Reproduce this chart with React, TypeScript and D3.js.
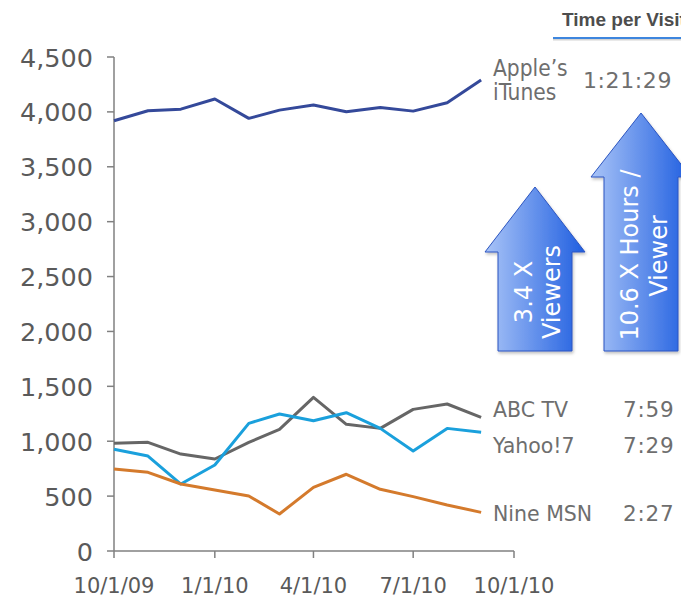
import React from "react";
import * as d3 from "d3";

const months = [
  "2009-10-01", "2009-11-01", "2009-12-01", "2010-01-01", "2010-02-01", "2010-03-01",
  "2010-04-01", "2010-05-01", "2010-06-01", "2010-07-01", "2010-08-01", "2010-09-01",
];
const itunes = [3919, 4010, 4025, 4117, 3941, 4016, 4062, 4001, 4041, 4007, 4083, 4290];
const abcTv = [981, 990, 883, 838, 990, 1108, 1400, 1154, 1117, 1290, 1339, 1218];
const yahoo7 = [926, 865, 610, 783, 1163, 1248, 1187, 1260, 1117, 911, 1117, 1081];
const nineMsn = [747, 717, 610, 556, 501, 337, 580, 699, 562, 495, 419, 352];

const yTicks = [0, 500, 1000, 1500, 2000, 2500, 3000, 3500, 4000, 4500];
const xTickDates = ["2009-10-01", "2010-01-01", "2010-04-01", "2010-07-01", "2010-10-01"];
const xTickLabels = ["10/1/09", "1/1/10", "4/1/10", "7/1/10", "10/1/10"];

const seriesNames = ["itunes", "abc", "yahoo", "nine"];
const seriesData = [itunes, abcTv, yahoo7, nineMsn];
const seriesColors = ["#34499a", "#666666", "#1aa0dc", "#d47a2c"];

const parse = d3.timeParse("%Y-%m-%d");

export default function App() {
  const x = d3.scaleTime().domain([parse("2009-10-01")!, parse("2010-10-01")!]).range([114, 514]);
  const y = d3.scaleLinear().domain([0, 4500]).range([551, 57]);
  const dates = months.map((m) => parse(m)!);
  const line = d3
    .line<number>()
    .x((_, i) => x(dates[i]))
    .y((d) => y(d));

  const labelColor = "#6e6e6e";
  const tickColor = "#5a5a5a";
  const font = "DejaVu Sans, Verdana, sans-serif";

  const arrow = (tipX: number, tipY: number, headY: number, headHalf: number, shaftHalf: number, bottom: number) =>
    `M${tipX},${tipY} L${tipX + headHalf},${headY} L${tipX + shaftHalf},${headY} L${tipX + shaftHalf},${bottom} L${tipX - shaftHalf},${bottom} L${tipX - shaftHalf},${headY} L${tipX - headHalf},${headY} Z`;

  return (
    <svg
      width={681}
      height={597}
      style={{ position: "absolute", left: 0, top: 0, background: "#fff" }}
      fontFamily={font}
    >
      <defs>
        <linearGradient id="arrGrad1" x1="485" x2="585" y1="0" y2="0" gradientUnits="userSpaceOnUse">
          <stop offset="0" stopColor="#a9c4f7" />
          <stop offset="1" stopColor="#1f5ee0" />
        </linearGradient>
        <linearGradient id="arrGrad2" x1="591" x2="691" y1="0" y2="0" gradientUnits="userSpaceOnUse">
          <stop offset="0" stopColor="#a9c4f7" />
          <stop offset="1" stopColor="#1f5ee0" />
        </linearGradient>
        <filter id="sh" x="-20%" y="-20%" width="140%" height="140%">
          <feDropShadow dx="1" dy="2" stdDeviation="1.5" floodColor="#000" floodOpacity="0.25" />
        </filter>
      </defs>

      {/* header */}
      <text x={562} y={26} fontFamily="Liberation Sans, Arial, sans-serif" fontSize={19} fontWeight="bold" fill="#4d4d4d">
        Time per Visit
      </text>
      <line x1={553} x2={681} y1={39.5} y2={39.5} stroke="#d4d4d4" strokeWidth={2} />
      <line x1={553} x2={681} y1={38} y2={38} stroke="#3d86de" strokeWidth={2} />

      {/* axes */}
      <line x1={114} x2={114} y1={y(4500)} y2={y(0)} stroke="#808080" strokeWidth={1.5} />
      <line x1={114} x2={514} y1={y(0)} y2={y(0)} stroke="#808080" strokeWidth={1.5} />
      {yTicks.map((t) => (
        <g key={t}>
          <line x1={107} x2={114} y1={y(t)} y2={y(t)} stroke="#808080" strokeWidth={1.5} />
          <text x={93} y={y(t) + 9.5} textAnchor="end" fontSize={25.5} fill={tickColor}>
            {d3.format(",")(t)}
          </text>
        </g>
      ))}
      {xTickDates.map((d, i) => (
        <g key={d}>
          <line x1={x(parse(d)!)} x2={x(parse(d)!)} y1={y(0)} y2={y(0) + 7} stroke="#808080" strokeWidth={1.5} />
          <text x={x(parse(d)!)} y={593} textAnchor="middle" fontSize={21} fill={tickColor}>
            {xTickLabels[i]}
          </text>
        </g>
      ))}

      {/* lines */}
      {seriesData.map((s, i) => (
        <path key={seriesNames[i]} d={line(s) || ""} fill="none" stroke={seriesColors[i]} strokeWidth={3} strokeLinejoin="round" />
      ))}

      {/* series labels */}
      <text x={493} y={76} fontFamily="DejaVu Sans Condensed, DejaVu Sans, sans-serif" fontSize={22.5} fill={labelColor}>
        Apple’s
      </text>
      <text x={493} y={100} fontFamily="DejaVu Sans Condensed, DejaVu Sans, sans-serif" fontSize={22.5} fill={labelColor}>
        iTunes
      </text>
      <text x={583} y={88} fontSize={22} fill={labelColor} letterSpacing={0.6}>
        1:21:29
      </text>

      <text x={493} y={417} fontSize={20.5} fill={labelColor}>ABC TV</text>
      <text x={623} y={417} fontSize={21.5} fill={labelColor} letterSpacing={0.8}>7:59</text>
      <text x={493} y={453} fontSize={20.5} fill={labelColor}>Yahoo!7</text>
      <text x={623} y={453} fontSize={21.5} fill={labelColor} letterSpacing={0.8}>7:29</text>
      <text x={493} y={521} fontSize={20.5} fill={labelColor}>Nine MSN</text>
      <text x={623} y={521} fontSize={21.5} fill={labelColor} letterSpacing={0.8}>2:27</text>

      {/* arrows */}
      <path d={arrow(535, 187, 252, 50, 37, 351)} fill="url(#arrGrad1)" stroke="#2c55c0" strokeWidth={1} filter="url(#sh)" />
      <path d={arrow(641, 113, 177, 50, 37, 351)} fill="url(#arrGrad2)" stroke="#2c55c0" strokeWidth={1} filter="url(#sh)" />

      <g transform="translate(532,292) rotate(-90)">
        <text textAnchor="middle" fontSize={24} fill="#fff">3.4 X</text>
      </g>
      <g transform="translate(560,292) rotate(-90)">
        <text textAnchor="middle" fontSize={24} fill="#fff">Viewers</text>
      </g>
      <g transform="translate(638,255) rotate(-90)">
        <text textAnchor="middle" fontSize={24} fill="#fff">10.6 X Hours /</text>
      </g>
      <g transform="translate(667,256) rotate(-90)">
        <text textAnchor="middle" fontSize={24} fill="#fff">Viewer</text>
      </g>
    </svg>
  );
}
